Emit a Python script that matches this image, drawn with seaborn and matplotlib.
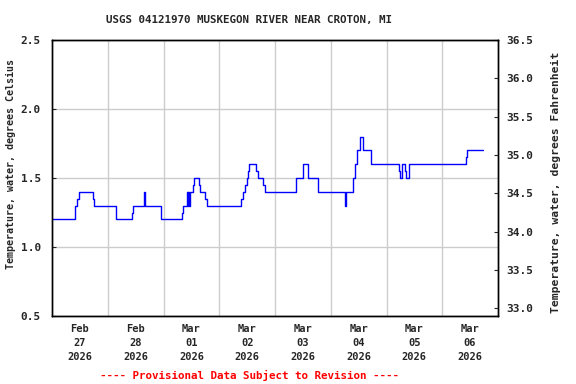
import matplotlib
matplotlib.use("Agg")
import matplotlib.pyplot as plt
import numpy as np
import pandas as pd
import seaborn as sns

# --------------------------------------------------------
# Data: step changes in water temperature (deg C)
# --------------------------------------------------------
change_times = [
    "2026-02-27 00:00", "2026-02-27 09:45", "2026-02-27 10:45", "2026-02-27 11:30",
    "2026-02-27 17:30", "2026-02-27 18:00", "2026-02-28 03:45", "2026-02-28 10:15",
    "2026-02-28 10:45", "2026-02-28 15:30", "2026-02-28 15:45", "2026-02-28 16:00",
    "2026-02-28 23:00", "2026-03-01 08:00", "2026-03-01 08:15", "2026-03-01 10:15",
    "2026-03-01 10:30", "2026-03-01 10:45", "2026-03-01 11:00", "2026-03-01 11:15",
    "2026-03-01 12:45", "2026-03-01 13:15", "2026-03-01 15:15", "2026-03-01 15:45",
    "2026-03-01 18:00", "2026-03-01 18:45", "2026-03-02 09:30", "2026-03-02 10:15",
    "2026-03-02 11:00", "2026-03-02 11:45", "2026-03-02 12:30", "2026-03-02 13:00",
    "2026-03-02 16:00", "2026-03-02 16:30", "2026-03-02 19:00", "2026-03-02 19:30",
    "2026-03-03 09:15", "2026-03-03 12:00", "2026-03-03 12:15", "2026-03-03 14:00",
    "2026-03-03 18:30", "2026-03-04 06:00", "2026-03-04 06:15", "2026-03-04 06:45",
    "2026-03-04 09:45", "2026-03-04 10:30", "2026-03-04 11:30", "2026-03-04 12:45",
    "2026-03-04 14:00", "2026-03-04 17:30", "2026-03-05 05:30", "2026-03-05 05:45",
    "2026-03-05 06:30", "2026-03-05 08:00", "2026-03-05 08:30", "2026-03-05 09:30",
    "2026-03-06 10:15", "2026-03-06 10:45", "2026-03-06 17:30",
]
temp_c = [
    1.20, 1.30, 1.35, 1.40,
    1.35, 1.30, 1.20, 1.25,
    1.30, 1.35, 1.40, 1.30,
    1.20, 1.25, 1.30, 1.40,
    1.30, 1.40, 1.30, 1.40,
    1.45, 1.50, 1.45, 1.40,
    1.35, 1.30, 1.35, 1.40,
    1.45, 1.50, 1.55, 1.60,
    1.55, 1.50, 1.45, 1.40,
    1.50, 1.55, 1.60, 1.50,
    1.40, 1.35, 1.30, 1.40,
    1.50, 1.60, 1.70, 1.80,
    1.70, 1.60, 1.55, 1.50,
    1.60, 1.55, 1.50, 1.60,
    1.65, 1.70, 1.70,
]

day_ticks = ["2026-02-27", "2026-02-28", "2026-03-01", "2026-03-02",
             "2026-03-03", "2026-03-04", "2026-03-05", "2026-03-06"]
day_labels = ["Feb\n27\n2026", "Feb\n28\n2026", "Mar\n01\n2026", "Mar\n02\n2026",
              "Mar\n03\n2026", "Mar\n04\n2026", "Mar\n05\n2026", "Mar\n06\n2026"]

left_ticks = [0.5, 1.0, 1.5, 2.0, 2.5]
right_ticks = [33.0, 33.5, 34.0, 34.5, 35.0, 35.5, 36.0, 36.5]

df = pd.DataFrame({"time": pd.to_datetime(change_times), "temp": temp_c})

# --------------------------------------------------------
# Plot
# --------------------------------------------------------
sns.set_style("white")
plt.rcParams["font.family"] = ["DejaVu Sans Mono", "DejaVu Sans"]
plt.rcParams["font.weight"] = "bold"

fig = plt.figure(figsize=(5.76, 3.84), dpi=100)
ax = fig.add_axes([52 / 576, 68 / 384, 446 / 576, 276 / 384])

sns.lineplot(data=df, x="time", y="temp", ax=ax, color="#0000ff",
             linewidth=1.0, drawstyle="steps-post")

ax.set_xlim(pd.Timestamp("2026-02-27 00:00"), pd.Timestamp("2026-03-07 00:00"))
ax.set_ylim(0.5, 2.5)

# day boundaries as gridlines, labels centred at noon
midnights = pd.date_range("2026-02-28", "2026-03-06", freq="D")
ax.set_xticks(midnights, minor=True)
noons = pd.to_datetime(day_ticks) + pd.Timedelta(hours=12)
ax.set_xticks(noons)
ax.set_xticklabels(day_labels)
for lbl in ax.get_xticklabels():
    lbl.set_linespacing(1.45)
ax.tick_params(axis="x", which="major", length=0, pad=6, labelsize=7.5)
ax.tick_params(axis="x", which="minor", length=3, direction="in")
ax.grid(True, which="minor", axis="x", color="#cccccc", linewidth=1)

ax.set_yticks(left_ticks)
ax.set_yticklabels([f"{v:.1f}" for v in left_ticks])
ax.tick_params(axis="y", length=3, direction="in", labelsize=8, pad=8)
ax.grid(True, which="major", axis="y", color="#cccccc", linewidth=1)
ax.set_xlabel("")
ax.set_ylabel("")

ax2 = ax.twinx()
ax2.set_ylim(0.5 * 1.8 + 32, 2.5 * 1.8 + 32)
ax2.set_yticks(right_ticks)
ax2.set_yticklabels([f"{v:.1f}" for v in right_ticks])
ax2.tick_params(axis="y", length=3, direction="in", labelsize=8, pad=6)

for a in (ax, ax2):
    for s in a.spines.values():
        s.set_color("black")
        s.set_linewidth(1.0)

fig.text(11 / 576, 1 - 164 / 384, "Temperature, water, degrees Celsius",
         rotation=90, ha="center", va="center", fontsize=7.2, fontweight="bold")
fig.text(556 / 576, 1 - 182 / 384, "Temperature, water, degrees Fahrenheit",
         rotation=90, ha="center", va="center", fontsize=8.2, fontweight="bold")
fig.text(249 / 576, 1 - 20 / 384, "USGS 04121970 MUSKEGON RIVER NEAR CROTON, MI",
         ha="center", va="center", fontsize=7.8, fontweight="bold")
fig.text(249 / 576, 9 / 384, "---- Provisional Data Subject to Revision ----",
         ha="center", va="center", fontsize=7.8, fontweight="bold", color="#ff0000")

fig.savefig("out.png", dpi=100)
plt.close()
